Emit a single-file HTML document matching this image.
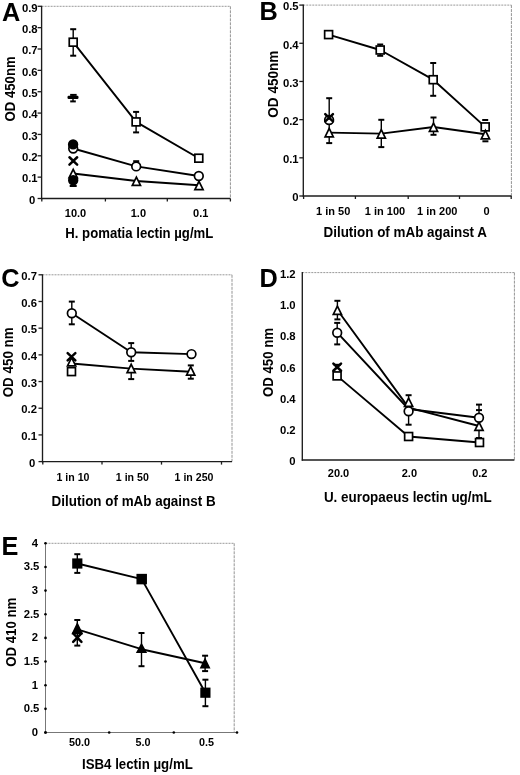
<!DOCTYPE html><html><head><meta charset="utf-8"><style>html,body{margin:0;padding:0;background:#fff;}svg{display:block;filter:grayscale(1)}</style></head><body>
<svg width="520" height="775" viewBox="0 0 520 775" font-family='"Liberation Sans", sans-serif' fill="#000">
<rect width="520" height="775" fill="#fff"/>
<path d="M41.6,6.3 H230.4" fill="none" stroke="#999" stroke-width="1" stroke-dasharray="2,1"/>
<path d="M230.4,6.3 V198.5" fill="none" stroke="#949494" stroke-width="1" stroke-dasharray="3,1"/>
<line x1="41.6" y1="5.8" x2="41.6" y2="199.3" stroke="#1c1c1c" stroke-width="1.35" />
<line x1="41.1" y1="198.5" x2="230.4" y2="198.5" stroke="#1c1c1c" stroke-width="1.35" />
<line x1="37.6" y1="6.3" x2="41.6" y2="6.3" stroke="#1c1c1c" stroke-width="1.3" />
<text x="37.6" y="11.55" font-size="11.3" font-weight="bold" text-anchor="end" >0.9</text>
<line x1="37.6" y1="27.66" x2="41.6" y2="27.66" stroke="#1c1c1c" stroke-width="1.3" />
<text x="37.6" y="32.9" font-size="11.3" font-weight="bold" text-anchor="end" >0.8</text>
<line x1="37.6" y1="49.01" x2="41.6" y2="49.01" stroke="#1c1c1c" stroke-width="1.3" />
<text x="37.6" y="54.26" font-size="11.3" font-weight="bold" text-anchor="end" >0.7</text>
<line x1="37.6" y1="70.37" x2="41.6" y2="70.37" stroke="#1c1c1c" stroke-width="1.3" />
<text x="37.6" y="75.61" font-size="11.3" font-weight="bold" text-anchor="end" >0.6</text>
<line x1="37.6" y1="91.72" x2="41.6" y2="91.72" stroke="#1c1c1c" stroke-width="1.3" />
<text x="37.6" y="96.97" font-size="11.3" font-weight="bold" text-anchor="end" >0.5</text>
<line x1="37.6" y1="113.08" x2="41.6" y2="113.08" stroke="#1c1c1c" stroke-width="1.3" />
<text x="37.6" y="118.32" font-size="11.3" font-weight="bold" text-anchor="end" >0.4</text>
<line x1="37.6" y1="134.43" x2="41.6" y2="134.43" stroke="#1c1c1c" stroke-width="1.3" />
<text x="37.6" y="139.68" font-size="11.3" font-weight="bold" text-anchor="end" >0.3</text>
<line x1="37.6" y1="155.79" x2="41.6" y2="155.79" stroke="#1c1c1c" stroke-width="1.3" />
<text x="37.6" y="161.03" font-size="11.3" font-weight="bold" text-anchor="end" >0.2</text>
<line x1="37.6" y1="177.14" x2="41.6" y2="177.14" stroke="#1c1c1c" stroke-width="1.3" />
<text x="37.6" y="182.39" font-size="11.3" font-weight="bold" text-anchor="end" >0.1</text>
<line x1="37.6" y1="198.5" x2="41.6" y2="198.5" stroke="#1c1c1c" stroke-width="1.3" />
<text x="35.4" y="203.75" font-size="11.3" font-weight="bold" text-anchor="end" >0</text>
<line x1="41.8" y1="198.5" x2="41.8" y2="201.5" stroke="#1c1c1c" stroke-width="1.3" />
<line x1="105.4" y1="198.5" x2="105.4" y2="201.5" stroke="#1c1c1c" stroke-width="1.3" />
<line x1="167.3" y1="198.5" x2="167.3" y2="201.5" stroke="#1c1c1c" stroke-width="1.3" />
<line x1="230.4" y1="198.5" x2="230.4" y2="201.5" stroke="#1c1c1c" stroke-width="1.3" />
<text x="75.5" y="216.74" font-size="11" font-weight="bold" text-anchor="middle" >10.0</text>
<text x="138.4" y="216.74" font-size="11" font-weight="bold" text-anchor="middle" >1.0</text>
<text x="200.7" y="216.74" font-size="11" font-weight="bold" text-anchor="middle" >0.1</text>
<text x="65.3" y="238.4" font-size="13.9" font-weight="bold" text-anchor="start" textLength="148" lengthAdjust="spacingAndGlyphs" >H. pomatia lectin µg/mL</text>
<text transform="translate(14.58,88.9) rotate(-90)" x="0" y="0" font-size="13.9" font-weight="bold" text-anchor="middle" textLength="65" lengthAdjust="spacingAndGlyphs">OD 450nm</text>
<text x="2" y="20.8" font-size="25.3" font-weight="bold" text-anchor="start" >A</text>
<polyline points="73.2,42.2 136.1,121.9 198.8,158.2" fill="none" stroke="#000" stroke-width="1.9" stroke-linejoin="round"/>
<polyline points="73.2,148.5 136.2,166.4 198.8,176" fill="none" stroke="#000" stroke-width="1.9" stroke-linejoin="round"/>
<polyline points="73.2,173.5 136.4,181 199,185.3" fill="none" stroke="#000" stroke-width="1.9" stroke-linejoin="round"/>
<line x1="73.2" y1="29.2" x2="73.2" y2="55.7" stroke="#000" stroke-width="1.4" />
<line x1="70.2" y1="29.2" x2="76.2" y2="29.2" stroke="#000" stroke-width="2.0" />
<line x1="70.2" y1="55.7" x2="76.2" y2="55.7" stroke="#000" stroke-width="2.0" />
<line x1="136.1" y1="111.9" x2="136.1" y2="132.4" stroke="#000" stroke-width="1.4" />
<line x1="133.1" y1="111.9" x2="139.1" y2="111.9" stroke="#000" stroke-width="2.0" />
<line x1="133.1" y1="132.4" x2="139.1" y2="132.4" stroke="#000" stroke-width="2.0" />
<line x1="133.2" y1="161.2" x2="139.2" y2="161.2" stroke="#000" stroke-width="2.0" />
<line x1="70.15" y1="94.9" x2="76.65" y2="94.9" stroke="#000" stroke-width="2.0" />
<line x1="70.2" y1="101.4" x2="75.8" y2="101.4" stroke="#000" stroke-width="2.0" />
<line x1="73" y1="94.3" x2="73" y2="101.4" stroke="#000" stroke-width="1.4" />
<line x1="69.7" y1="186" x2="76.7" y2="186" stroke="#000" stroke-width="2.0" />
<rect x="69.25" y="38.25" width="7.9" height="7.9" fill="#fff" stroke="#000" stroke-width="1.7"/>
<rect x="132.15" y="117.95" width="7.9" height="7.9" fill="#fff" stroke="#000" stroke-width="1.7"/>
<rect x="194.85" y="154.25" width="7.9" height="7.9" fill="#fff" stroke="#000" stroke-width="1.7"/>
<polygon points="73.2,169.36 77.31,177.75 69.09,177.75" fill="#fff" stroke="#000" stroke-width="1.7" stroke-linejoin="miter"/>
<polygon points="136.4,177.06 140.51,185.45 132.29,185.45" fill="#fff" stroke="#000" stroke-width="1.7" stroke-linejoin="miter"/>
<polygon points="199,181.26 203.11,189.65 194.89,189.65" fill="#fff" stroke="#000" stroke-width="1.7" stroke-linejoin="miter"/>
<circle cx="73.2" cy="180.2" r="4.35" fill="#000" stroke="#000" stroke-width="1.7"/>
<circle cx="73.2" cy="148.5" r="4.35" fill="#fff" stroke="#000" stroke-width="1.7"/>
<circle cx="136.2" cy="166.4" r="4.35" fill="#fff" stroke="#000" stroke-width="1.7"/>
<circle cx="198.8" cy="176" r="4.35" fill="#fff" stroke="#000" stroke-width="1.7"/>
<circle cx="73.1" cy="144.4" r="4.35" fill="#000" stroke="#000" stroke-width="1.7"/>
<path d="M69.45,157.25 L77.15,164.55 M77.15,157.25 L69.45,164.55" fill="none" stroke="#000" stroke-width="2.5" stroke-linecap="round"/>
<path d="M71.1,159.3 L75.5,159.3 L73.3,160.9 Z M71.1,162.5 L75.5,162.5 L73.3,160.9 Z" fill="#000"/>
<rect x="67.5" y="95.7" width="11" height="3.2" rx="1.2" fill="#000"/>
<path d="M303.3,5.1 H511.4" fill="none" stroke="#999" stroke-width="1" stroke-dasharray="2,1"/>
<path d="M511.4,5.1 V196" fill="none" stroke="#949494" stroke-width="1" stroke-dasharray="3,1"/>
<line x1="303.3" y1="4.6" x2="303.3" y2="196.8" stroke="#1c1c1c" stroke-width="1.35" />
<line x1="302.8" y1="196" x2="511.4" y2="196" stroke="#1c1c1c" stroke-width="1.35" />
<line x1="299.3" y1="5.1" x2="303.3" y2="5.1" stroke="#1c1c1c" stroke-width="1.3" />
<text x="298.6" y="10.35" font-size="11.3" font-weight="bold" text-anchor="end" >0.5</text>
<line x1="299.3" y1="43.28" x2="303.3" y2="43.28" stroke="#1c1c1c" stroke-width="1.3" />
<text x="298.6" y="48.53" font-size="11.3" font-weight="bold" text-anchor="end" >0.4</text>
<line x1="299.3" y1="81.46" x2="303.3" y2="81.46" stroke="#1c1c1c" stroke-width="1.3" />
<text x="298.6" y="86.71" font-size="11.3" font-weight="bold" text-anchor="end" >0.3</text>
<line x1="299.3" y1="119.64" x2="303.3" y2="119.64" stroke="#1c1c1c" stroke-width="1.3" />
<text x="298.6" y="124.89" font-size="11.3" font-weight="bold" text-anchor="end" >0.2</text>
<line x1="299.3" y1="157.82" x2="303.3" y2="157.82" stroke="#1c1c1c" stroke-width="1.3" />
<text x="298.6" y="163.07" font-size="11.3" font-weight="bold" text-anchor="end" >0.1</text>
<line x1="299.3" y1="196" x2="303.3" y2="196" stroke="#1c1c1c" stroke-width="1.3" />
<text x="298.6" y="201.25" font-size="11.3" font-weight="bold" text-anchor="end" >0</text>
<line x1="303.6" y1="196" x2="303.6" y2="199" stroke="#1c1c1c" stroke-width="1.3" />
<line x1="355.4" y1="196" x2="355.4" y2="199" stroke="#1c1c1c" stroke-width="1.3" />
<line x1="408.2" y1="196" x2="408.2" y2="199" stroke="#1c1c1c" stroke-width="1.3" />
<line x1="459.5" y1="196" x2="459.5" y2="199" stroke="#1c1c1c" stroke-width="1.3" />
<line x1="511.2" y1="196" x2="511.2" y2="199" stroke="#1c1c1c" stroke-width="1.3" />
<text x="333.2" y="214.74" font-size="11" font-weight="bold" text-anchor="middle" >1 in 50</text>
<text x="385" y="214.74" font-size="11" font-weight="bold" text-anchor="middle" >1 in 100</text>
<text x="437.3" y="214.74" font-size="11" font-weight="bold" text-anchor="middle" >1 in 200</text>
<text x="486.6" y="214.74" font-size="11" font-weight="bold" text-anchor="middle" >0</text>
<text x="323.5" y="237.3" font-size="13.9" font-weight="bold" text-anchor="start" textLength="163.5" lengthAdjust="spacingAndGlyphs" >Dilution of mAb against A</text>
<text transform="translate(278.08,84.2) rotate(-90)" x="0" y="0" font-size="13.9" font-weight="bold" text-anchor="middle" textLength="67" lengthAdjust="spacingAndGlyphs">OD 450nm</text>
<text x="259.6" y="20.3" font-size="25.3" font-weight="bold" text-anchor="start" >B</text>
<polyline points="328.6,34.6 380.2,50 433.2,79.7 485.2,126.9" fill="none" stroke="#000" stroke-width="1.9" stroke-linejoin="round"/>
<polyline points="329.2,132.6 381.3,133.6 433.5,127 485.4,134.2" fill="none" stroke="#000" stroke-width="1.9" stroke-linejoin="round"/>
<line x1="329.2" y1="98.2" x2="329.2" y2="143.1" stroke="#000" stroke-width="1.4" />
<line x1="326.2" y1="98.2" x2="332.2" y2="98.2" stroke="#000" stroke-width="2.0" />
<line x1="326.2" y1="143.1" x2="332.2" y2="143.1" stroke="#000" stroke-width="2.0" />
<line x1="380.2" y1="44.5" x2="380.2" y2="55.8" stroke="#000" stroke-width="1.4" />
<line x1="377.2" y1="44.5" x2="383.2" y2="44.5" stroke="#000" stroke-width="2.0" />
<line x1="377.2" y1="55.8" x2="383.2" y2="55.8" stroke="#000" stroke-width="2.0" />
<line x1="433.2" y1="63" x2="433.2" y2="95.8" stroke="#000" stroke-width="1.4" />
<line x1="430.2" y1="63" x2="436.2" y2="63" stroke="#000" stroke-width="2.0" />
<line x1="430.2" y1="95.8" x2="436.2" y2="95.8" stroke="#000" stroke-width="2.0" />
<line x1="482.2" y1="120" x2="488.2" y2="120" stroke="#000" stroke-width="2.0" />
<line x1="482.4" y1="141.3" x2="488.4" y2="141.3" stroke="#000" stroke-width="2.0" />
<line x1="381.3" y1="119.8" x2="381.3" y2="147.1" stroke="#000" stroke-width="1.4" />
<line x1="378.3" y1="119.8" x2="384.3" y2="119.8" stroke="#000" stroke-width="2.0" />
<line x1="378.3" y1="147.1" x2="384.3" y2="147.1" stroke="#000" stroke-width="2.0" />
<line x1="433.5" y1="117.5" x2="433.5" y2="134.8" stroke="#000" stroke-width="1.4" />
<line x1="430.5" y1="117.5" x2="436.5" y2="117.5" stroke="#000" stroke-width="2.0" />
<line x1="430.5" y1="134.8" x2="436.5" y2="134.8" stroke="#000" stroke-width="2.0" />
<rect x="324.65" y="30.65" width="7.9" height="7.9" fill="#fff" stroke="#000" stroke-width="1.7"/>
<rect x="376.25" y="46.05" width="7.9" height="7.9" fill="#fff" stroke="#000" stroke-width="1.7"/>
<rect x="429.25" y="75.75" width="7.9" height="7.9" fill="#fff" stroke="#000" stroke-width="1.7"/>
<rect x="481.25" y="122.95" width="7.9" height="7.9" fill="#fff" stroke="#000" stroke-width="1.7"/>
<circle cx="329.1" cy="120" r="4.35" fill="#fff" stroke="#000" stroke-width="1.7"/>
<path d="M325.25,114.15 L332.95,121.45 M332.95,114.15 L325.25,121.45" fill="none" stroke="#000" stroke-width="2.5" stroke-linecap="round"/>
<path d="M326.9,116.2 L331.3,116.2 L329.1,117.8 Z M326.9,119.4 L331.3,119.4 L329.1,117.8 Z" fill="#000"/>
<polygon points="329.2,128.46 333.31,136.85 325.09,136.85" fill="#fff" stroke="#000" stroke-width="1.7" stroke-linejoin="miter"/>
<polygon points="381.3,129.66 385.41,138.05 377.19,138.05" fill="#fff" stroke="#000" stroke-width="1.7" stroke-linejoin="miter"/>
<polygon points="433.5,123.06 437.61,131.45 429.39,131.45" fill="#fff" stroke="#000" stroke-width="1.7" stroke-linejoin="miter"/>
<polygon points="485.4,130.46 489.51,138.85 481.29,138.85" fill="#fff" stroke="#000" stroke-width="1.7" stroke-linejoin="miter"/>
<path d="M42.5,274.8 H232" fill="none" stroke="#999" stroke-width="1" stroke-dasharray="2,1"/>
<path d="M232,274.8 V461.6" fill="none" stroke="#949494" stroke-width="1" stroke-dasharray="3,1"/>
<line x1="42.5" y1="274.3" x2="42.5" y2="462.4" stroke="#1c1c1c" stroke-width="1.35" />
<line x1="42" y1="461.6" x2="232" y2="461.6" stroke="#1c1c1c" stroke-width="1.35" />
<line x1="38.5" y1="274.8" x2="42.5" y2="274.8" stroke="#1c1c1c" stroke-width="1.3" />
<text x="37" y="280.05" font-size="11.3" font-weight="bold" text-anchor="end" >0.7</text>
<line x1="38.5" y1="301.49" x2="42.5" y2="301.49" stroke="#1c1c1c" stroke-width="1.3" />
<text x="37" y="306.73" font-size="11.3" font-weight="bold" text-anchor="end" >0.6</text>
<line x1="38.5" y1="328.17" x2="42.5" y2="328.17" stroke="#1c1c1c" stroke-width="1.3" />
<text x="37" y="333.42" font-size="11.3" font-weight="bold" text-anchor="end" >0.5</text>
<line x1="38.5" y1="354.86" x2="42.5" y2="354.86" stroke="#1c1c1c" stroke-width="1.3" />
<text x="37" y="360.1" font-size="11.3" font-weight="bold" text-anchor="end" >0.4</text>
<line x1="38.5" y1="381.54" x2="42.5" y2="381.54" stroke="#1c1c1c" stroke-width="1.3" />
<text x="37" y="386.79" font-size="11.3" font-weight="bold" text-anchor="end" >0.3</text>
<line x1="38.5" y1="408.23" x2="42.5" y2="408.23" stroke="#1c1c1c" stroke-width="1.3" />
<text x="37" y="413.47" font-size="11.3" font-weight="bold" text-anchor="end" >0.2</text>
<line x1="38.5" y1="434.91" x2="42.5" y2="434.91" stroke="#1c1c1c" stroke-width="1.3" />
<text x="37" y="440.16" font-size="11.3" font-weight="bold" text-anchor="end" >0.1</text>
<line x1="38.5" y1="461.6" x2="42.5" y2="461.6" stroke="#1c1c1c" stroke-width="1.3" />
<text x="35.2" y="466.85" font-size="11.3" font-weight="bold" text-anchor="end" >0</text>
<line x1="42.8" y1="461.6" x2="42.8" y2="464.6" stroke="#1c1c1c" stroke-width="1.3" />
<line x1="102" y1="461.6" x2="102" y2="464.6" stroke="#1c1c1c" stroke-width="1.3" />
<line x1="161.5" y1="461.6" x2="161.5" y2="464.6" stroke="#1c1c1c" stroke-width="1.3" />
<line x1="221.5" y1="461.6" x2="221.5" y2="464.6" stroke="#1c1c1c" stroke-width="1.3" />
<text x="73" y="481.09" font-size="10.6" font-weight="bold" text-anchor="middle" >1 in 10</text>
<text x="132.3" y="481.09" font-size="10.6" font-weight="bold" text-anchor="middle" >1 in 50</text>
<text x="194" y="481.09" font-size="10.6" font-weight="bold" text-anchor="middle" >1 in 250</text>
<text x="51.6" y="505.7" font-size="13.9" font-weight="bold" text-anchor="start" textLength="164" lengthAdjust="spacingAndGlyphs" >Dilution of mAb against B</text>
<text transform="translate(13.08,362.3) rotate(-90)" x="0" y="0" font-size="13.9" font-weight="bold" text-anchor="middle" textLength="70" lengthAdjust="spacingAndGlyphs">OD 450 nm</text>
<text x="1.3" y="287.1" font-size="25.3" font-weight="bold" text-anchor="start" >C</text>
<polyline points="71.8,313.2 131.2,352.2 191.5,354.1" fill="none" stroke="#000" stroke-width="1.9" stroke-linejoin="round"/>
<polyline points="71.8,363.5 131.2,368.6 190.8,371.8" fill="none" stroke="#000" stroke-width="1.9" stroke-linejoin="round"/>
<line x1="71.8" y1="301.6" x2="71.8" y2="324.3" stroke="#000" stroke-width="1.4" />
<line x1="68.8" y1="301.6" x2="74.8" y2="301.6" stroke="#000" stroke-width="2.0" />
<line x1="68.8" y1="324.3" x2="74.8" y2="324.3" stroke="#000" stroke-width="2.0" />
<line x1="131.2" y1="343.1" x2="131.2" y2="360.9" stroke="#000" stroke-width="1.4" />
<line x1="128.2" y1="343.1" x2="134.2" y2="343.1" stroke="#000" stroke-width="2.0" />
<line x1="128.2" y1="360.9" x2="134.2" y2="360.9" stroke="#000" stroke-width="2.0" />
<line x1="128.2" y1="379.1" x2="134.2" y2="379.1" stroke="#000" stroke-width="2.0" />
<line x1="131.2" y1="368" x2="131.2" y2="379.1" stroke="#000" stroke-width="1.4" />
<line x1="187.8" y1="365.4" x2="193.8" y2="365.4" stroke="#000" stroke-width="2.0" />
<line x1="187.8" y1="378.7" x2="193.8" y2="378.7" stroke="#000" stroke-width="2.0" />
<line x1="190.8" y1="368" x2="190.8" y2="378.7" stroke="#000" stroke-width="1.4" />
<rect x="67.55" y="367.65" width="7.9" height="7.9" fill="#fff" stroke="#000" stroke-width="1.7"/>
<polygon points="71.6,357.56 75.71,365.95 67.49,365.95" fill="#fff" stroke="#000" stroke-width="1.7" stroke-linejoin="miter"/>
<path d="M67.65,353.15 L75.35,360.45 M75.35,353.15 L67.65,360.45" fill="none" stroke="#000" stroke-width="2.5" stroke-linecap="round"/>
<path d="M69.3,355.2 L73.7,355.2 L71.5,356.8 Z M69.3,358.4 L73.7,358.4 L71.5,356.8 Z" fill="#000"/>
<circle cx="71.8" cy="313.2" r="4.35" fill="#fff" stroke="#000" stroke-width="1.7"/>
<circle cx="131.2" cy="352.2" r="4.35" fill="#fff" stroke="#000" stroke-width="1.7"/>
<circle cx="191.5" cy="354.1" r="4.35" fill="#fff" stroke="#000" stroke-width="1.7"/>
<polygon points="131.2,364.26 135.31,372.65 127.09,372.65" fill="#fff" stroke="#000" stroke-width="1.7" stroke-linejoin="miter"/>
<polygon points="190.7,366.66 194.81,375.05 186.59,375.05" fill="#fff" stroke="#000" stroke-width="1.7" stroke-linejoin="miter"/>
<path d="M302.3,272.6 H514.4" fill="none" stroke="#999" stroke-width="1" stroke-dasharray="2,1"/>
<path d="M514.4,272.6 V460" fill="none" stroke="#949494" stroke-width="1" stroke-dasharray="3,1"/>
<line x1="302.3" y1="272.1" x2="302.3" y2="460.8" stroke="#1c1c1c" stroke-width="1.35" />
<line x1="301.8" y1="460" x2="514.4" y2="460" stroke="#1c1c1c" stroke-width="1.35" />
<text x="295.6" y="277.85" font-size="11.3" font-weight="bold" text-anchor="end" >1.2</text>
<text x="295.6" y="309.08" font-size="11.3" font-weight="bold" text-anchor="end" >1.0</text>
<text x="295.6" y="340.31" font-size="11.3" font-weight="bold" text-anchor="end" >0.8</text>
<text x="295.6" y="371.55" font-size="11.3" font-weight="bold" text-anchor="end" >0.6</text>
<text x="295.6" y="402.78" font-size="11.3" font-weight="bold" text-anchor="end" >0.4</text>
<text x="295.6" y="434.01" font-size="11.3" font-weight="bold" text-anchor="end" >0.2</text>
<text x="295.6" y="465.25" font-size="11.3" font-weight="bold" text-anchor="end" >0</text>
<text x="338.5" y="477.44" font-size="11" font-weight="bold" text-anchor="middle" >20.0</text>
<text x="409.4" y="477.44" font-size="11" font-weight="bold" text-anchor="middle" >2.0</text>
<text x="479.8" y="477.44" font-size="11" font-weight="bold" text-anchor="middle" >0.2</text>
<text x="323.9" y="502.2" font-size="13.9" font-weight="bold" text-anchor="start" textLength="167.8" lengthAdjust="spacingAndGlyphs" >U. europaeus lectin ug/mL</text>
<text transform="translate(272.98,362.5) rotate(-90)" x="0" y="0" font-size="13.9" font-weight="bold" text-anchor="middle" textLength="69" lengthAdjust="spacingAndGlyphs">OD 450 nm</text>
<text x="259.5" y="286.8" font-size="25.3" font-weight="bold" text-anchor="start" >D</text>
<polyline points="337.4,310 408.6,407.6 479,426" fill="none" stroke="#000" stroke-width="1.9" stroke-linejoin="round"/>
<polyline points="337.2,332.7 408.6,409 479,417.8" fill="none" stroke="#000" stroke-width="1.9" stroke-linejoin="round"/>
<polyline points="337.1,375.9 408.6,436.5 479.5,442.5" fill="none" stroke="#000" stroke-width="1.9" stroke-linejoin="round"/>
<line x1="337.4" y1="300.8" x2="337.4" y2="319.4" stroke="#000" stroke-width="1.4" />
<line x1="334.4" y1="300.8" x2="340.4" y2="300.8" stroke="#000" stroke-width="2.0" />
<line x1="334.4" y1="319.4" x2="340.4" y2="319.4" stroke="#000" stroke-width="2.0" />
<line x1="337.2" y1="322.9" x2="337.2" y2="344.4" stroke="#000" stroke-width="1.4" />
<line x1="334.2" y1="322.9" x2="340.2" y2="322.9" stroke="#000" stroke-width="2.0" />
<line x1="334.2" y1="344.4" x2="340.2" y2="344.4" stroke="#000" stroke-width="2.0" />
<line x1="408.6" y1="395.2" x2="408.6" y2="424.7" stroke="#000" stroke-width="1.4" />
<line x1="405.6" y1="395.2" x2="411.6" y2="395.2" stroke="#000" stroke-width="2.0" />
<line x1="405.6" y1="424.7" x2="411.6" y2="424.7" stroke="#000" stroke-width="2.0" />
<line x1="479" y1="404.6" x2="479" y2="438" stroke="#000" stroke-width="1.4" />
<line x1="476" y1="404.6" x2="482" y2="404.6" stroke="#000" stroke-width="2.0" />
<line x1="476" y1="438" x2="482" y2="438" stroke="#000" stroke-width="2.0" />
<line x1="476" y1="410.1" x2="482" y2="410.1" stroke="#000" stroke-width="2.0" />
<rect x="333.15" y="371.95" width="7.9" height="7.9" fill="#fff" stroke="#000" stroke-width="1.7"/>
<rect x="404.65" y="432.55" width="7.9" height="7.9" fill="#fff" stroke="#000" stroke-width="1.7"/>
<rect x="475.55" y="438.55" width="7.9" height="7.9" fill="#fff" stroke="#000" stroke-width="1.7"/>
<path d="M333.4,363.6 L341,370.8 M341,363.6 L333.4,370.8" fill="none" stroke="#000" stroke-width="2.6" stroke-linecap="round"/>
<path d="M335,365.6 L339.4,365.6 L337.2,367.2 Z M335,368.8 L339.4,368.8 L337.2,367.2 Z" fill="#000"/>
<line x1="333.7" y1="364.8" x2="340.7" y2="364.8" stroke="#000" stroke-width="2.0" />
<polygon points="337.4,306.06 341.51,314.45 333.29,314.45" fill="#fff" stroke="#000" stroke-width="1.7" stroke-linejoin="miter"/>
<polygon points="408.6,398.06 412.71,406.45 404.49,406.45" fill="#fff" stroke="#000" stroke-width="1.7" stroke-linejoin="miter"/>
<polygon points="479,422.06 483.11,430.45 474.89,430.45" fill="#fff" stroke="#000" stroke-width="1.7" stroke-linejoin="miter"/>
<circle cx="337.2" cy="332.7" r="4.35" fill="#fff" stroke="#000" stroke-width="1.7"/>
<circle cx="408.6" cy="411.3" r="4.35" fill="#fff" stroke="#000" stroke-width="1.7"/>
<circle cx="479" cy="417.8" r="4.35" fill="#fff" stroke="#000" stroke-width="1.7"/>
<path d="M45.5,543.3 H234.2" fill="none" stroke="#999" stroke-width="1" stroke-dasharray="2,1"/>
<path d="M234.2,543.3 V732.5" fill="none" stroke="#949494" stroke-width="1" stroke-dasharray="3,1"/>
<line x1="45.5" y1="543.3" x2="45.5" y2="732.5" stroke="#777" stroke-width="1.0" />
<line x1="45.5" y1="732.5" x2="237" y2="732.5" stroke="#777" stroke-width="1.0" />
<circle cx="45.5" cy="732.5" r="1.3" fill="#000"/>
<circle cx="45.5" cy="708.85" r="1.3" fill="#000"/>
<circle cx="45.5" cy="685.2" r="1.3" fill="#000"/>
<circle cx="45.5" cy="661.55" r="1.3" fill="#000"/>
<circle cx="45.5" cy="637.9" r="1.3" fill="#000"/>
<circle cx="45.5" cy="614.25" r="1.3" fill="#000"/>
<circle cx="45.5" cy="590.6" r="1.3" fill="#000"/>
<circle cx="45.5" cy="566.95" r="1.3" fill="#000"/>
<circle cx="45.5" cy="543.3" r="1.3" fill="#000"/>
<circle cx="45.5" cy="732.5" r="1.3" fill="#000"/>
<circle cx="109.2" cy="732.5" r="1.3" fill="#000"/>
<circle cx="173.8" cy="732.5" r="1.3" fill="#000"/>
<circle cx="237" cy="732.5" r="1.3" fill="#000"/>
<text x="38.1" y="735.85" font-size="11.3" font-weight="bold" text-anchor="end" >0</text>
<text x="39.4" y="712.2" font-size="11.3" font-weight="bold" text-anchor="end" >0.5</text>
<text x="38.1" y="688.55" font-size="11.3" font-weight="bold" text-anchor="end" >1</text>
<text x="39.4" y="664.9" font-size="11.3" font-weight="bold" text-anchor="end" >1.5</text>
<text x="38.1" y="641.25" font-size="11.3" font-weight="bold" text-anchor="end" >2</text>
<text x="39.4" y="617.6" font-size="11.3" font-weight="bold" text-anchor="end" >2.5</text>
<text x="38.1" y="593.95" font-size="11.3" font-weight="bold" text-anchor="end" >3</text>
<text x="39.4" y="570.3" font-size="11.3" font-weight="bold" text-anchor="end" >3.5</text>
<text x="38.1" y="546.65" font-size="11.3" font-weight="bold" text-anchor="end" >4</text>
<text x="79.5" y="745.97" font-size="10.8" font-weight="bold" text-anchor="middle" >50.0</text>
<text x="143.1" y="745.97" font-size="10.8" font-weight="bold" text-anchor="middle" >5.0</text>
<text x="206.4" y="745.97" font-size="10.8" font-weight="bold" text-anchor="middle" >0.5</text>
<text x="82" y="768.8" font-size="13.9" font-weight="bold" text-anchor="start" textLength="110.8" lengthAdjust="spacingAndGlyphs" >ISB4 lectin µg/mL</text>
<text transform="translate(15.78,632.2) rotate(-90)" x="0" y="0" font-size="13.9" font-weight="bold" text-anchor="middle" textLength="69" lengthAdjust="spacingAndGlyphs">OD 410 nm</text>
<text x="1.5" y="555.1" font-size="25.3" font-weight="bold" text-anchor="start" >E</text>
<polyline points="77.3,563.5 141.7,579.1 205.4,692.7" fill="none" stroke="#000" stroke-width="1.9" stroke-linejoin="round"/>
<polyline points="77.3,629.4 141.5,649.2 205.1,663.2" fill="none" stroke="#000" stroke-width="1.9" stroke-linejoin="round"/>
<line x1="77.3" y1="554.2" x2="77.3" y2="572.9" stroke="#000" stroke-width="1.4" />
<line x1="74.3" y1="554.2" x2="80.3" y2="554.2" stroke="#000" stroke-width="2.0" />
<line x1="74.3" y1="572.9" x2="80.3" y2="572.9" stroke="#000" stroke-width="2.0" />
<line x1="205.4" y1="679.7" x2="205.4" y2="706.2" stroke="#000" stroke-width="1.4" />
<line x1="202.4" y1="679.7" x2="208.4" y2="679.7" stroke="#000" stroke-width="2.0" />
<line x1="202.4" y1="706.2" x2="208.4" y2="706.2" stroke="#000" stroke-width="2.0" />
<line x1="77.3" y1="620" x2="77.3" y2="645.6" stroke="#000" stroke-width="1.4" />
<line x1="74.3" y1="620" x2="80.3" y2="620" stroke="#000" stroke-width="2.0" />
<line x1="74.3" y1="645.6" x2="80.3" y2="645.6" stroke="#000" stroke-width="2.0" />
<line x1="141.5" y1="633" x2="141.5" y2="666.2" stroke="#000" stroke-width="1.4" />
<line x1="138.5" y1="633" x2="144.5" y2="633" stroke="#000" stroke-width="2.0" />
<line x1="138.5" y1="666.2" x2="144.5" y2="666.2" stroke="#000" stroke-width="2.0" />
<line x1="205.1" y1="655.7" x2="205.1" y2="671.1" stroke="#000" stroke-width="1.4" />
<line x1="202.1" y1="655.7" x2="208.1" y2="655.7" stroke="#000" stroke-width="2.0" />
<line x1="202.1" y1="671.1" x2="208.1" y2="671.1" stroke="#000" stroke-width="2.0" />
<rect x="73.05" y="559.25" width="8.5" height="8.5" fill="#000" stroke="#000" stroke-width="1.7"/>
<rect x="137.3" y="574.7" width="8.8" height="8.8" fill="#000" stroke="#000" stroke-width="1.7"/>
<rect x="201.15" y="688.45" width="8.5" height="8.5" fill="#000" stroke="#000" stroke-width="1.7"/>
<path d="M73.15,633.35 L81.45,641.85 M81.45,633.35 L73.15,641.85" fill="none" stroke="#000" stroke-width="2.5" stroke-linecap="round"/>
<path d="M75.1,636 L79.5,636 L77.3,637.6 Z M75.1,639.2 L79.5,639.2 L77.3,637.6 Z" fill="#000"/>
<polygon points="77.3,623.96 81.86,633.35 72.74,633.35" fill="#000" stroke="#000" stroke-width="1.7" stroke-linejoin="miter"/>
<polygon points="141.5,644.36 145.71,652.15 137.29,652.15" fill="#000" stroke="#000" stroke-width="1.7" stroke-linejoin="miter"/>
<polygon points="205.1,659.26 209.16,667.65 201.04,667.65" fill="#000" stroke="#000" stroke-width="1.7" stroke-linejoin="miter"/>
</svg></body></html>
